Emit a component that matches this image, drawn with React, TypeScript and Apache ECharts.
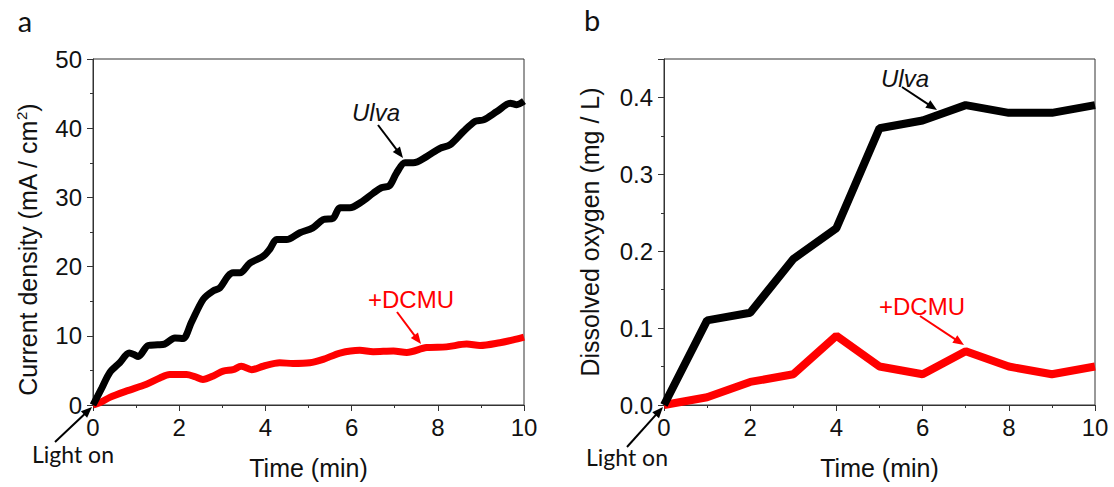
import React, { useEffect, useRef } from "react";
import * as echarts from "echarts";

// Panel a: current density (mA / cm2) vs time (min)
const ulvaCurrent: [number, number][] = [
  [0, 0], [0.2, 2.4], [0.39, 4.7], [0.62, 6.1], [0.84, 7.5], [0.95, 7.3], [1.05, 7.0],
  [1.28, 8.6], [1.5, 8.7], [1.66, 8.8], [1.9, 9.7], [2.09, 9.6], [2.28, 11.9],
  [2.56, 15.3], [2.79, 16.5], [2.94, 16.9], [3.13, 18.6], [3.25, 19.1], [3.41, 19.1],
  [3.64, 20.5], [3.95, 21.5], [4.1, 22.5], [4.26, 23.9], [4.49, 23.9], [4.8, 24.9],
  [5.1, 25.6], [5.34, 26.8], [5.57, 27.0], [5.73, 28.5], [5.96, 28.5], [6.22, 29.3],
  [6.5, 30.6], [6.69, 31.4], [6.88, 31.7], [7.04, 33.5], [7.24, 35.0], [7.43, 35.0],
  [7.74, 35.9], [8.05, 37.1], [8.28, 37.6], [8.59, 39.5], [8.87, 41.0], [9.06, 41.2],
  [9.37, 42.4], [9.68, 43.6], [9.83, 43.4], [10, 43.9],
];
const dcmuCurrent: [number, number][] = [
  [0, 0], [0.15, 0.3], [0.39, 1.1], [0.77, 2.0], [1.24, 3.0], [1.55, 3.9], [1.78, 4.4],
  [2.17, 4.4], [2.36, 4.1], [2.55, 3.7], [2.79, 4.2], [3.02, 4.9], [3.25, 5.1],
  [3.44, 5.6], [3.68, 5.1], [3.95, 5.6], [4.33, 6.1], [4.64, 6.0], [5.03, 6.1],
  [5.34, 6.6], [5.73, 7.5], [6.19, 7.9], [6.5, 7.7], [6.97, 7.8], [7.28, 7.6],
  [7.74, 8.3], [8.2, 8.4], [8.67, 8.8], [8.98, 8.6], [9.44, 9.0], [9.75, 9.4], [10, 9.8],
];

// Panel b: dissolved oxygen (mg / L) vs time (min)
const oxygenTimes = [0, 1, 2, 3, 4, 5, 6, 7, 8, 9, 10];
const ulvaOxygen = [0, 0.11, 0.12, 0.19, 0.23, 0.36, 0.37, 0.39, 0.38, 0.38, 0.39];
const dcmuOxygen = [0, 0.01, 0.03, 0.04, 0.09, 0.05, 0.04, 0.07, 0.05, 0.04, 0.05];

const ARIAL = "'Liberation Sans', Arial, sans-serif";
const CALIBRI = "Lato, 'Open Sans', sans-serif";
const AXIS_COLOR = "#333";
const RED = "#ff0000";

function arrow(x1: number, y1: number, x2: number, y2: number, color: string) {
  const dx = x2 - x1;
  const dy = y2 - y1;
  const len = Math.sqrt(dx * dx + dy * dy);
  const ux = dx / len;
  const uy = dy / len;
  const headLen = 11;
  const headW = 4.5;
  const bx = x2 - ux * headLen;
  const by = y2 - uy * headLen;
  const px = -uy;
  const py = ux;
  return {
    type: "group",
    children: [
      {
        type: "line",
        shape: { x1, y1, x2: bx + ux * 2, y2: by + uy * 2 },
        style: { stroke: color, lineWidth: 2 },
      },
      {
        type: "polygon",
        shape: {
          points: [
            [x2, y2],
            [bx + px * headW, by + py * headW],
            [bx - px * headW, by - py * headW],
          ],
        },
        style: { fill: color },
      },
    ],
  };
}

function text(x: number, y: number, t: string, opts: any = {}) {
  return {
    type: "text",
    x,
    y,
    style: {
      text: t,
      fill: opts.color || "#111",
      font: `${opts.italic ? "italic " : ""}${opts.size || 24}px ${opts.family || ARIAL}`,
      align: opts.align || "center",
      verticalAlign: "middle",
    },
  };
}

function xAxis(gridIndex: number) {
  return {
    type: "value",
    gridIndex,
    min: 0,
    max: 10,
    interval: 2,
    name: "Time (min)",
    nameLocation: "middle",
    nameGap: 50,
    nameTextStyle: { fontFamily: ARIAL, fontSize: 25, color: "#111" },
    axisLine: { show: true, onZero: false, lineStyle: { color: AXIS_COLOR, width: 1 } },
    axisTick: { show: true, inside: false, length: 6, lineStyle: { color: AXIS_COLOR } },
    minorTick: { show: true, splitNumber: 2, length: 3, lineStyle: { color: AXIS_COLOR } },
    axisLabel: { fontFamily: ARIAL, fontSize: 24, color: "#111", margin: 10 },
    splitLine: { show: false },
  };
}

export default function App() {
  const ref = useRef<HTMLDivElement>(null);

  useEffect(() => {
    if (!ref.current) return;
    const chart = echarts.init(ref.current, null, { renderer: "svg" });

    const option: any = {
      animation: false,
      backgroundColor: "#ffffff",
      grid: [
        { left: 93, top: 59, width: 431, height: 346, show: true, borderColor: AXIS_COLOR, borderWidth: 1, backgroundColor: "transparent" },
        { left: 664, top: 59, width: 431, height: 346, show: true, borderColor: AXIS_COLOR, borderWidth: 1, backgroundColor: "transparent" },
      ],
      xAxis: [xAxis(0), xAxis(1)],
      yAxis: [
        {
          type: "value",
          gridIndex: 0,
          min: 0,
          max: 50,
          interval: 10,
          name: "Current density (mA / cm{sup|2})",
          nameLocation: "middle",
          nameGap: 52,
          nameTextStyle: {
            fontFamily: ARIAL,
            fontSize: 25,
            color: "#111",
            padding: [0, 0, 0, -36],
            rich: { sup: { fontFamily: ARIAL, fontSize: 15, color: "#111", verticalAlign: "top", padding: [0, 0, 12, 0] } },
          },
          axisLine: { show: true, onZero: false, lineStyle: { color: AXIS_COLOR, width: 1 } },
          axisTick: { show: true, inside: false, length: 6, lineStyle: { color: AXIS_COLOR } },
          minorTick: { show: true, splitNumber: 2, length: 3, lineStyle: { color: AXIS_COLOR } },
          axisLabel: { fontFamily: ARIAL, fontSize: 24, color: "#111", margin: 11 },
          splitLine: { show: false },
        },
        {
          type: "value",
          gridIndex: 1,
          min: 0,
          max: 0.45,
          interval: 0.1,
          name: "Dissolved oxygen (mg / L)",
          nameLocation: "middle",
          nameGap: 62,
          nameTextStyle: { fontFamily: ARIAL, fontSize: 25, color: "#111" },
          axisLine: { show: true, onZero: false, lineStyle: { color: AXIS_COLOR, width: 1 } },
          axisTick: { show: true, inside: false, length: 6, lineStyle: { color: AXIS_COLOR } },
          minorTick: { show: true, splitNumber: 2, length: 3, lineStyle: { color: AXIS_COLOR } },
          axisLabel: {
            fontFamily: ARIAL,
            fontSize: 24,
            color: "#111",
            margin: 11,
            showMaxLabel: false,
            formatter: (v: number) => (Math.abs(v * 10 - Math.round(v * 10)) < 1e-6 ? v.toFixed(1) : ""),
          },
          splitLine: { show: false },
        },
      ],
      series: [
        {
          type: "line",
          xAxisIndex: 0,
          yAxisIndex: 0,
          data: dcmuCurrent,
          showSymbol: false,
          smooth: 0.3,
          lineStyle: { color: RED, width: 7 },
          z: 2,
        },
        {
          type: "line",
          xAxisIndex: 0,
          yAxisIndex: 0,
          data: ulvaCurrent,
          showSymbol: false,
          smooth: 0.3,
          lineStyle: { color: "#000", width: 7 },
          z: 3,
        },
        {
          type: "line",
          xAxisIndex: 1,
          yAxisIndex: 1,
          data: oxygenTimes.map((t, i) => [t, dcmuOxygen[i]]),
          showSymbol: false,
          lineStyle: { color: RED, width: 8 },
          z: 2,
        },
        {
          type: "line",
          xAxisIndex: 1,
          yAxisIndex: 1,
          data: oxygenTimes.map((t, i) => [t, ulvaOxygen[i]]),
          showSymbol: false,
          lineStyle: { color: "#000", width: 8 },
          z: 3,
        },
      ],
      graphic: [
        text(25, 20, "a", { size: 29, family: CALIBRI, color: "#111" }),
        text(592, 19, "b", { size: 29, family: CALIBRI, color: "#111" }),
        text(376, 112, "Ulva", { italic: true }),
        arrow(378, 125, 403, 158, "#000"),
        text(411, 299, "+DCMU", { color: RED }),
        arrow(397, 312, 421, 344, RED),
        text(73, 454, "Light on", { size: 23, family: CALIBRI }),
        arrow(55, 442, 92, 407, "#000"),
        text(905, 78, "Ulva", { italic: true }),
        arrow(902, 87, 937, 110, "#000"),
        text(922, 306, "+DCMU", { color: RED }),
        arrow(920, 316, 964, 345, RED),
        text(627, 457, "Light on", { size: 23, family: CALIBRI }),
        arrow(627, 447, 663, 407, "#000"),
      ],
    };

    chart.setOption(option);
    return () => chart.dispose();
  }, []);

  return (
    <div
      ref={ref}
      style={{ position: "fixed", left: 0, top: 0, width: 1114, height: 487, background: "#fff" }}
    />
  );
}
